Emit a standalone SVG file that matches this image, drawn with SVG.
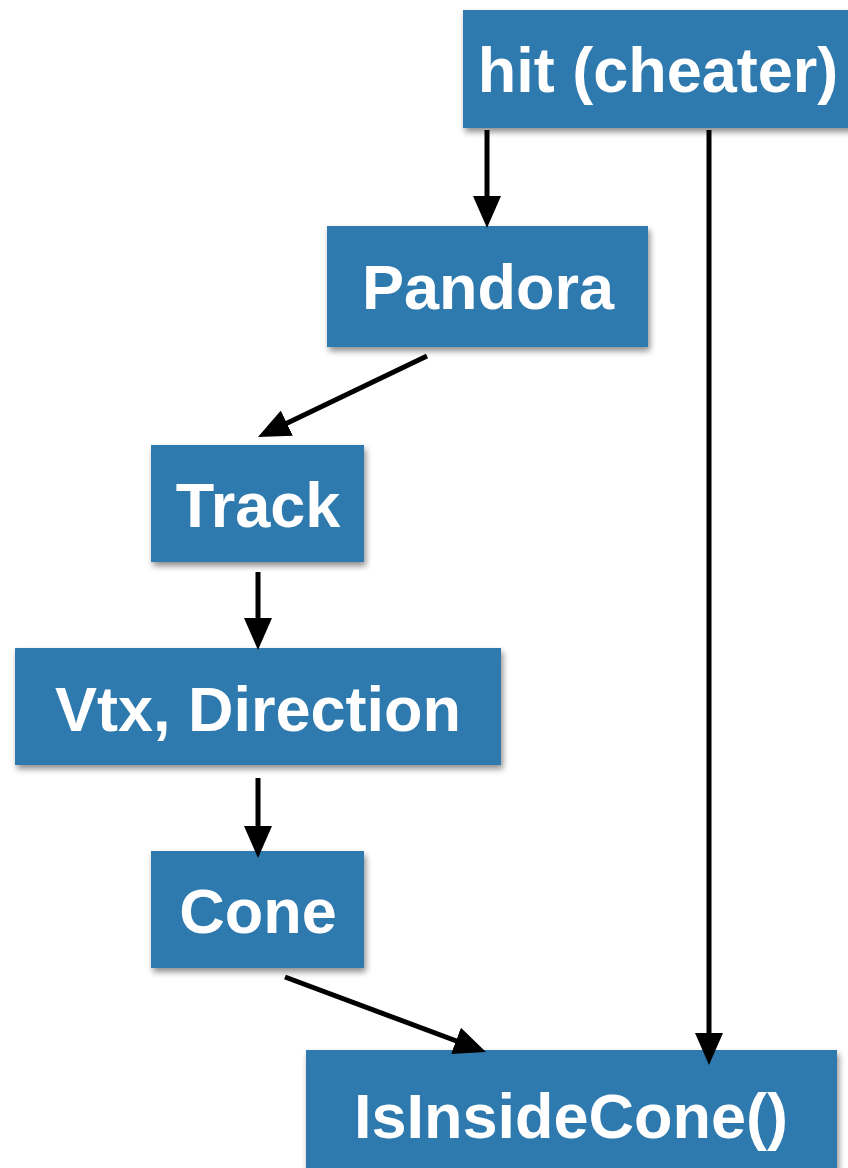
<svg xmlns="http://www.w3.org/2000/svg" width="848" height="1168" viewBox="0 0 848 1168">
  <defs>
    <filter id="shadow" x="-10%" y="-10%" width="125%" height="130%">
      <feGaussianBlur in="SourceAlpha" stdDeviation="3"/>
      <feOffset dx="2" dy="4" result="blur"/>
      <feComponentTransfer><feFuncA type="linear" slope="0.45"/></feComponentTransfer>
      <feMerge><feMergeNode/><feMergeNode in="SourceGraphic"/></feMerge>
    </filter>
    <marker id="arrow" viewBox="0 0 32 28" markerWidth="32" markerHeight="28" refX="22" refY="14" orient="auto" markerUnits="userSpaceOnUse">
      <path d="M0,0 L32,14 L0,28 Z" fill="#000"/>
    </marker>
  </defs>
  <style>
    .box { fill: #2d7aaf; filter: url(#shadow); }
    .label { font-family: "Liberation Sans", Arial, Helvetica, sans-serif; font-weight: bold; font-size: 63px; fill: #ffffff; text-anchor: middle; }
    .edge { stroke: #000; stroke-width: 5; fill: none; marker-end: url(#arrow); }
  </style>
  <rect width="848" height="1168" fill="#ffffff"/>

  <g id="hit">
    <rect class="box" x="463" y="10" width="400" height="118"/>
    <text class="label" x="658" y="92">hit (cheater)</text>
  </g>
  <g id="pandora">
    <rect class="box" x="327" y="226" width="321" height="121"/>
    <text class="label" x="488" y="309">Pandora</text>
  </g>
  <g id="track">
    <rect class="box" x="151" y="445" width="213" height="117"/>
    <text class="label" x="258" y="527">Track</text>
  </g>
  <g id="vtx-direction">
    <rect class="box" x="15" y="648" width="486" height="117"/>
    <text class="label" x="258" y="731">Vtx, Direction</text>
  </g>
  <g id="cone">
    <rect class="box" x="151" y="851" width="213" height="117"/>
    <text class="label" x="258" y="933">Cone</text>
  </g>
  <g id="is-inside-cone">
    <rect class="box" x="306" y="1050" width="531" height="130"/>
    <text class="label" x="571" y="1138">IsInsideCone()</text>
  </g>

  <!-- arrows sit above the boxes so their heads overlap box edges -->
  <g id="connectors">
    <line class="edge" x1="487" y1="130" x2="487" y2="218"/>
    <line class="edge" x1="709" y1="130" x2="709" y2="1055"/>
    <line class="edge" x1="427" y1="356" x2="267" y2="432.7"/>
    <line class="edge" x1="258" y1="572" x2="258" y2="640"/>
    <line class="edge" x1="258" y1="778" x2="258" y2="848"/>
    <line class="edge" x1="285" y1="977" x2="476.6" y2="1048.5"/>
  </g>
</svg>
